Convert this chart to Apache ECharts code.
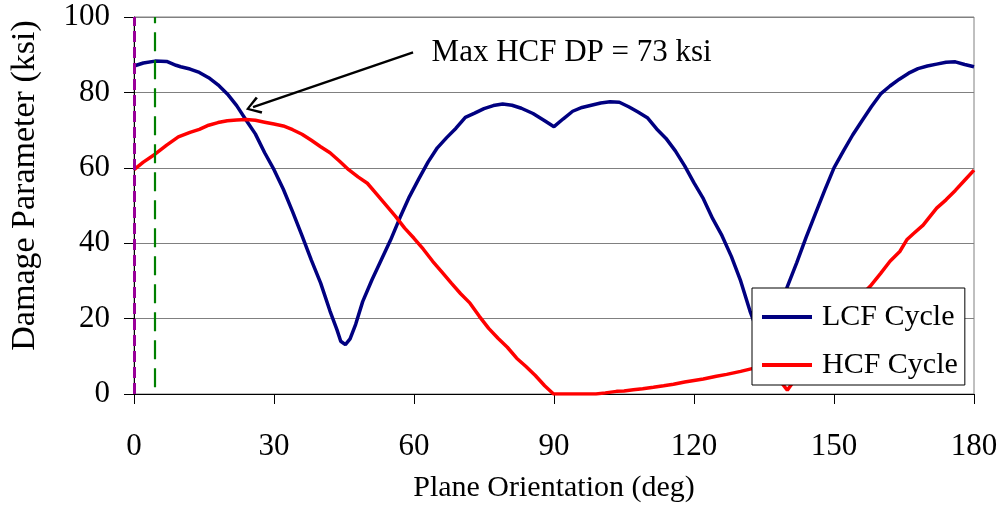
<!DOCTYPE html>
<html>
<head>
<meta charset="utf-8">
<script src="https://cdn.jsdelivr.net/npm/echarts@6/dist/echarts.min.js"></script>
<style>
html,body{margin:0;padding:0;background:#fff;}
#chart{width:1001px;height:508px;}
</style>
</head>
<body>
<div id="chart"></div>
<script>
// ---- data ----
const xTicks = [0, 30, 60, 90, 120, 150, 180];
const yTicks = [0, 20, 40, 60, 80, 100];

const lcfAngles = [0,2,4.5,7,9,10,12,14,16,18,20,22,24,26,28,30,32,34,36,38,40,42,43.5,44.3,45.3,46.3,47.5,49,51,53,55,57,59,61,63,65,67,69,71,73,75,77,79,81,83,85.5,88,90,92,94,96,98,100,102,104,106,108,110,112,114,116,118,120,122,124,126,128,130,132,133.5,135,136.5,138,140,142,144,146,148,150,152,154,156,158,160,162,164,166,168,170,172,174,176,178,180];
const lcfValues = [87,87.8,88.3,88.2,87.2,86.8,86.2,85.3,83.9,82,79.6,76.5,72.7,69,64,59.5,54.3,48.3,42,35.5,29.4,22,17,14,13.1,14.6,18.5,24.5,30.3,35.6,40.9,46.8,52.3,57,61.5,65.3,68,70.5,73.4,74.5,75.7,76.5,76.9,76.6,75.8,74.4,72.5,70.9,73,75,76,76.6,77.2,77.5,77.4,76.2,74.8,73.3,70.3,67.8,64.5,60.5,56,51.8,46.5,42,36.5,30,22,17,12,15,20.5,28.5,34.8,41.5,47.8,54,60,64.4,68.7,72.5,76.2,79.6,81.7,83.5,85.1,86.3,87,87.5,88,88.1,87.4,86.8];

const hcfAngles = [0,2,4.5,7,9.5,12,14,16,18,20,22,24,26,28,30,32,34,36,38,40,42,44,46,48,50,52,54,56,58,60,62,64,66,68,70,72,74,76,78,80,82,84,86,88,89.9,92,95,99,101,103.4,105,107,109,111.3,113.5,115.6,118,120,122,124.8,127,130,132,134,136,138,140,142,145,148,151,154,157.7,160,162,164.1,165.6,167,169.1,170.5,172,174,176,178,180];
const hcfValues = [59.5,61.5,63.6,66,68.2,69.4,70.2,71.3,72,72.5,72.7,72.8,72.6,72.1,71.6,71.1,70.1,68.9,67.3,65.6,64,61.8,59.5,57.6,55.9,53,50.1,47.2,44,41.3,38.4,35.2,32.3,29.4,26.6,24.1,20.6,17.4,14.8,12.4,9.5,7.3,4.9,2.2,0,0,0,0,0.3,0.7,0.8,1.1,1.4,1.8,2.2,2.6,3.2,3.6,4,4.7,5.2,6,6.6,7.2,7.5,4.2,1,4.5,9.5,14.5,19.5,24,28.5,32,35.2,37.8,40.9,42.5,44.8,47,49.3,51.5,54,56.7,59.4];

const refLineMagenta = 0;
const refLineGreen = 4.5;
const arrowStart = [59.8, 90.6];
const arrowEnd = [25.5, 76.1];
const annotationText = 'Max HCF DP = 73 ksi';

const seriesNames = ['LCF Cycle', 'HCF Cycle'];
const xTitle = 'Plane Orientation (deg)';
const yTitle = 'Damage Parameter (ksi)';

// ---- chart ----
const FONT = '"Liberation Serif", "Times New Roman", serif';
const zip = (a, b) => a.map((x, i) => [x, b[i]]);

const chart = echarts.init(document.getElementById('chart'), null, {renderer: 'canvas'});
chart.setOption({
  animation: false,
  backgroundColor: '#fff',
  textStyle: {fontFamily: FONT, color: '#000'},
  grid: {left: 134, right: 27, top: 17, bottom: 114, show: true, borderColor: '#808080', borderWidth: 1},
  legend: {
    data: seriesNames,
    orient: 'vertical',
    left: 752, top: 288,
    backgroundColor: '#fff',
    borderColor: '#000', borderWidth: 1,
    padding: [14, 7, 5, 10],
    itemGap: 18,
    itemWidth: 50, itemHeight: 4,
    icon: 'rect',
    textStyle: {fontFamily: FONT, fontSize: 30, color: '#000', padding: [0, 0, 0, 5], lineHeight: 30},
    selectedMode: false
  },
  xAxis: {
    type: 'value', min: 0, max: 180, interval: 30,
    name: xTitle, nameLocation: 'middle', nameGap: 79,
    nameTextStyle: {fontFamily: FONT, fontSize: 30, color: '#000'},
    axisLine: {show: true, lineStyle: {color: '#000', width: 1}},
    axisTick: {show: true, inside: false, length: 10, lineStyle: {color: '#000'}},
    axisLabel: {fontFamily: FONT, fontSize: 31, color: '#000', margin: 37,
      formatter: v => xTicks.includes(v) ? String(v) : ''},
    splitLine: {show: false}
  },
  yAxis: {
    type: 'value', min: 0, max: 100, interval: 20,
    name: yTitle, nameLocation: 'middle', nameGap: 92, nameRotate: 90,
    nameTextStyle: {fontFamily: FONT, fontSize: 34, color: '#000', padding: [0, 0, 0, 40]},
    axisLine: {show: true, lineStyle: {color: '#000', width: 1}},
    axisTick: {show: true, inside: false, length: 10, lineStyle: {color: '#000'}},
    axisLabel: {fontFamily: FONT, fontSize: 31, color: '#000', margin: 24,
      formatter: v => yTicks.includes(v) ? String(v) : ''},
    splitLine: {show: true, lineStyle: {color: '#808080', width: 1}}
  },
  series: [
    {
      name: seriesNames[0], type: 'line', data: zip(lcfAngles, lcfValues),
      symbol: 'none', smooth: false, z: 3,
      lineStyle: {color: '#000080', width: 3.5}, itemStyle: {color: '#000080'}
    },
    {
      name: seriesNames[1], type: 'line', data: zip(hcfAngles, hcfValues),
      symbol: 'none', smooth: false, z: 3,
      lineStyle: {color: '#ff0000', width: 3.5}, itemStyle: {color: '#ff0000'}
    },
    {
      name: 'annot', type: 'line', data: [], z: 4,
      markLine: {
        silent: true, animation: false,
        symbol: 'none',
        label: {show: false},
        data: [
          [{coord: [refLineMagenta, 0], lineStyle: {color: '#990099', width: 3, type: [11, 5]}}, {coord: [refLineMagenta, 100]}],
          [{coord: [refLineGreen, 1.8], lineStyle: {color: '#008000', width: 2.2, type: [19, 9]}}, {coord: [refLineGreen, 100]}],
          [{coord: arrowStart, symbol: 'none', lineStyle: {color: '#000', width: 2.4, type: 'solid'}},
           {coord: arrowEnd, symbol: 'path://M50,0 L100,86 L88,96 L50,24 L12,96 L0,86 Z', symbolSize: [18, 15]}]
        ]
      },
      markPoint: {
        silent: true, animation: false,
        symbol: 'circle', symbolSize: 1,
        itemStyle: {color: 'rgba(0,0,0,0)'},
        label: {show: true, position: 'right', distance: 18, fontFamily: FONT, fontSize: 31, color: '#000',
          formatter: annotationText},
        data: [{coord: arrowStart}]
      }
    }
  ]
});
</script>
</body>
</html>
